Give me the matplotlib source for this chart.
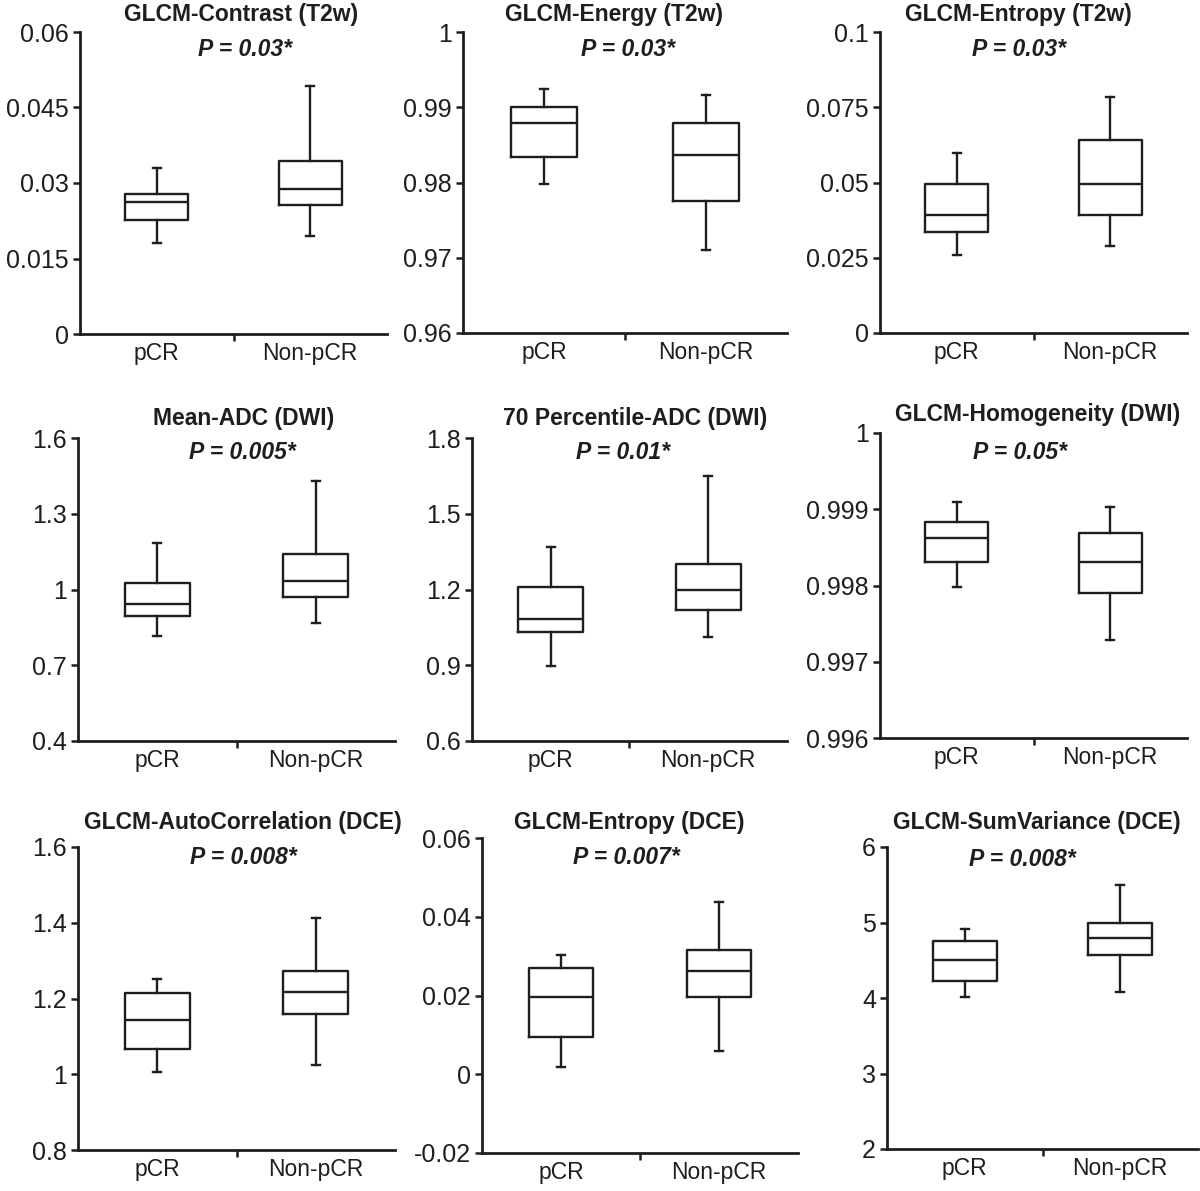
import numpy as np
import matplotlib
matplotlib.use("Agg")
import matplotlib.pyplot as plt
from matplotlib.ticker import FixedLocator, FuncFormatter

plt.rcParams["font.family"] = ["Liberation Sans", "DejaVu Sans"]

# -------------------------
# data
# -------------------------
groups = ["pCR", "Non-pCR"]
titles = [
    "GLCM-Contrast (T2w)", "GLCM-Energy (T2w)", "GLCM-Entropy (T2w)",
    "Mean-ADC (DWI)", "70 Percentile-ADC (DWI)", "GLCM-Homogeneity (DWI)",
    "GLCM-AutoCorrelation (DCE)", "GLCM-Entropy (DCE)", "GLCM-SumVariance (DCE)",
]
p_labels = ["0.03", "0.03", "0.03", "0.005", "0.01", "0.05", "0.008", "0.007", "0.008"]
y_min = [0, 0.96, 0, 0.4, 0.6, 0.996, 0.8, -0.02, 2]
y_max = [0.06, 1.0, 0.1, 1.6, 1.8, 1.0, 1.6, 0.06, 6]

# pCR group: whisker low, Q1, median, Q3, whisker high
pcr_low = [0.0181, 0.9798, 0.0259, 0.816, 0.897, 0.99798, 1.006, 0.0018, 4.013]
pcr_q1 = [0.0226, 0.9834, 0.0336, 0.895, 1.032, 0.998308, 1.067, 0.0095, 4.225]
pcr_med = [0.0262, 0.9879, 0.0392, 0.943, 1.083, 0.998623, 1.143, 0.0196, 4.503]
pcr_q3 = [0.0278, 0.9900, 0.0495, 1.026, 1.210, 0.998833, 1.2145, 0.0270, 4.755]
pcr_high = [0.0330, 0.9924, 0.0598, 1.184, 1.368, 0.999095, 1.2515, 0.0303, 4.914]

# Non-pCR group
non_low = [0.0195, 0.9710, 0.0289, 0.867, 1.012, 0.997285, 1.024, 0.0059, 4.079]
non_q1 = [0.0256, 0.9775, 0.0392, 0.970, 1.119, 0.997902, 1.159, 0.0196, 4.570]
non_med = [0.0288, 0.9837, 0.0495, 1.034, 1.198, 0.998308, 1.217, 0.0262, 4.795]
non_q3 = [0.0344, 0.9879, 0.0641, 1.141, 1.301, 0.998689, 1.2726, 0.0316, 4.993]
non_high = [0.0493, 0.9916, 0.0784, 1.430, 1.650, 0.999030, 1.4125, 0.0437, 5.497]

# -------------------------
# layout (pixels: left, right, top, bottom)
# -------------------------
W, H = 1200, 1191
axes_px = [
    (80, 387, 32, 334), (463, 787, 32, 333), (880, 1187, 32, 333),
    (78, 395, 438, 741), (472, 787, 438, 741), (880, 1187, 433, 738),
    (78, 395, 847, 1150), (482, 798, 838, 1153), (887, 1198, 847, 1149),
]
title_xy = [
    (241, 14), (614, 14), (1018, 14),
    (244, 418), (635, 418), (1038, 414),
    (243, 823), (629, 823), (1037, 823),
]
p_xy = [
    (245, 50), (628, 50), (1019, 50),
    (242, 453), (623, 453), (1020, 453),
    (243, 858), (626, 857), (1022, 859),
]

ink = "#1e1e1e"
fig = plt.figure(figsize=(W / 100, H / 100), dpi=100)


def fmt(v, pos):
    return f"{round(v, 6):g}"


for i in range(9):
    l, r, t, b = axes_px[i]
    ax = fig.add_axes([l / W, 1 - b / H, (r - l) / W, (b - t) / H])
    stats = [
        dict(label=groups[0], whislo=pcr_low[i], q1=pcr_q1[i], med=pcr_med[i],
             q3=pcr_q3[i], whishi=pcr_high[i], fliers=[]),
        dict(label=groups[1], whislo=non_low[i], q1=non_q1[i], med=non_med[i],
             q3=non_q3[i], whishi=non_high[i], fliers=[]),
    ]
    ax.bxp(stats, positions=[1, 2], widths=0.41, capwidths=0.05, showfliers=False,
           boxprops=dict(color=ink, linewidth=1.7),
           medianprops=dict(color=ink, linewidth=1.7),
           whiskerprops=dict(color=ink, linewidth=1.7),
           capprops=dict(color=ink, linewidth=1.7))
    ax.set_xlim(0.5, 2.5)
    ax.set_ylim(y_min[i], y_max[i])
    ax.yaxis.set_major_locator(FixedLocator(np.linspace(y_min[i], y_max[i], 5)))
    ax.yaxis.set_major_formatter(FuncFormatter(fmt))
    ax.set_xticks([1, 2])
    ax.set_xticklabels(groups)
    ax.set_xticks([1.5], minor=True)
    ax.tick_params(axis="x", which="major", length=0, pad=6, labelsize=16.5, labelcolor=ink)
    ax.tick_params(axis="x", which="minor", length=5, width=1.8, color=ink, direction="out")
    ax.tick_params(axis="y", length=5, width=1.8, color=ink, pad=3, labelsize=18, labelcolor=ink)
    for s in ["top", "right"]:
        ax.spines[s].set_visible(False)
    for s in ["left", "bottom"]:
        ax.spines[s].set_linewidth(2.0)
        ax.spines[s].set_color(ink)

    tx, ty = title_xy[i]
    fig.text(tx / W, 1 - ty / H, titles[i], ha="center", va="center",
             fontsize=16.5, fontweight="bold", color=ink)
    px, py = p_xy[i]
    fig.text(px / W, 1 - py / H, f"P = {p_labels[i]}*", ha="center", va="center",
             fontsize=16.5, fontweight="bold", fontstyle="italic", color=ink)

fig.savefig("out.png", dpi=100, facecolor="white")
